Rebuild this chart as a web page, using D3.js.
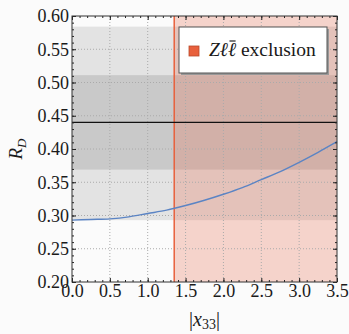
<!DOCTYPE html>
<html>
<head>
<meta charset="utf-8">
<script src="https://cdn.jsdelivr.net/npm/d3@7"></script>
<style>
  html, body { margin: 0; padding: 0; background: #fbfbfb; }
  svg { display: block; }
</style>
</head>
<body>
<svg id="chart" width="349" height="334"></svg>
<script>
// curve R_D versus |x33|
var xVals = [0, 0.25, 0.5, 0.75, 1, 1.25, 1.5, 1.75, 2, 2.25, 2.5, 2.75, 3, 3.25, 3.5];
var rdVals = [0.293, 0.294, 0.295, 0.298, 0.303, 0.308, 0.315, 0.323, 0.332, 0.342, 0.354, 0.366, 0.380, 0.395, 0.411];

// measured value and its bands
var rdCentral = 0.44;
var band1 = [0.369, 0.511];
var band2 = [0.293, 0.584];

// excluded region
var exclusionFrom = 1.35;
var legendLabel = "exclusion";

var xTicks = [0, 0.5, 1, 1.5, 2, 2.5, 3, 3.5];
var yTicks = [0.20, 0.25, 0.30, 0.35, 0.40, 0.45, 0.50, 0.55, 0.60];

var serif = "'Liberation Serif', 'Times New Roman', serif";

var svg = d3.select("#chart");
var margin = {top: 16, right: 12, bottom: 52, left: 72};
var width = 349 - margin.left - margin.right,
    height = 334 - margin.top - margin.bottom;

var x = d3.scaleLinear().domain([0, 3.5]).range([0, width]);
var y = d3.scaleLinear().domain([0.2, 0.6]).range([height, 0]);

var g = svg.append("g")
    .attr("transform", "translate(" + margin.left + "," + margin.top + ")");

// plot background
g.append("rect")
    .attr("width", width)
    .attr("height", height)
    .attr("fill", "#fbfbfb");

// 2 sigma band
g.append("rect")
    .attr("x", 0)
    .attr("width", width)
    .attr("y", y(band2[1]))
    .attr("height", y(band2[0]) - y(band2[1]))
    .attr("fill", "#e3e3e3");

// 1 sigma band
g.append("rect")
    .attr("x", 0)
    .attr("width", width)
    .attr("y", y(band1[1]))
    .attr("height", y(band1[0]) - y(band1[1]))
    .attr("fill", "#c9c9c9");

// exclusion region
g.append("rect")
    .attr("x", x(exclusionFrom))
    .attr("width", x(3.5) - x(exclusionFrom))
    .attr("y", 0)
    .attr("height", height)
    .attr("fill", "#e8785e")
    .attr("fill-opacity", 0.3);

// dotted grid
g.selectAll(".vgrid")
    .data(xTicks.slice(1, -1))
    .enter().append("line")
    .attr("x1", d => x(d)).attr("x2", d => x(d))
    .attr("y1", 0).attr("y2", height)
    .attr("stroke", "#aaa")
    .attr("stroke-width", 1)
    .attr("stroke-dasharray", "1,2");

g.selectAll(".hgrid")
    .data(yTicks.slice(1, -1))
    .enter().append("line")
    .attr("y1", d => y(d)).attr("y2", d => y(d))
    .attr("x1", 0).attr("x2", width)
    .attr("stroke", "#aaa")
    .attr("stroke-width", 1)
    .attr("stroke-dasharray", "1,2");

// edge of exclusion
g.append("line")
    .attr("x1", x(exclusionFrom)).attr("x2", x(exclusionFrom))
    .attr("y1", 0).attr("y2", height)
    .attr("stroke", "#e8603c")
    .attr("stroke-width", 1.5);

// central value
g.append("line")
    .attr("x1", 0).attr("x2", width)
    .attr("y1", y(rdCentral)).attr("y2", y(rdCentral))
    .attr("stroke", "#111")
    .attr("stroke-width", 1.4);

// R_D curve
var line = d3.line()
    .x(function(d, i) { return x(xVals[i]); })
    .y(function(d) { return y(d); })
    .curve(d3.curveMonotoneX);

g.append("path")
    .datum(rdVals)
    .attr("d", line)
    .attr("fill", "none")
    .attr("stroke", "#5b84c4")
    .attr("stroke-width", 1.4);

// frame ticks
var xMinor = d3.range(0, 35.5, 1).map(d => d / 10);
var yMinor = d3.range(20, 60.5, 1).map(d => d / 100);

function addAxis(axis, tx) {
    var a = g.append("g").attr("transform", tx).call(axis);
    a.select(".domain").remove();
    a.selectAll(".tick line").attr("stroke", "#222");
    a.attr("font-family", serif).attr("font-size", 18);
    a.selectAll(".tick text").attr("fill", "#1a1a1a");
    return a;
}

addAxis(d3.axisLeft(y).tickValues(yMinor).tickSize(-2).tickFormat(""), "translate(0,0)");
addAxis(d3.axisRight(y).tickValues(yMinor).tickSize(-2).tickFormat(""), "translate(" + width + ",0)");
addAxis(d3.axisBottom(x).tickValues(xMinor).tickSize(-2).tickFormat(""), "translate(0," + height + ")");
addAxis(d3.axisTop(x).tickValues(xMinor).tickSize(-2).tickFormat(""), "translate(0,0)");

addAxis(d3.axisLeft(y).tickValues(yTicks).tickSize(-4).tickPadding(3).tickFormat(d3.format(".2f")), "translate(0,0)");
addAxis(d3.axisRight(y).tickValues(yTicks).tickSize(-4).tickFormat(""), "translate(" + width + ",0)");
addAxis(d3.axisBottom(x).tickValues(xTicks).tickSize(-4).tickPadding(2.5).tickFormat(d3.format(".1f")), "translate(0," + height + ")");
addAxis(d3.axisTop(x).tickValues(xTicks).tickSize(-4).tickFormat(""), "translate(0,0)");

// frame
g.append("rect")
    .attr("width", width)
    .attr("height", height)
    .attr("fill", "none")
    .attr("stroke", "#333")
    .attr("stroke-width", 1);

// axis labels
svg.append("text")
    .attr("transform", "translate(22," + (margin.top + height / 2) + ") rotate(-90)")
    .attr("text-anchor", "middle")
    .attr("font-family", serif)
    .attr("font-size", 19)
    .attr("font-style", "italic")
    .attr("fill", "#1a1a1a")
    .html('R<tspan dy="4" font-size="13">D</tspan>');

var xl = svg.append("text")
    .attr("x", margin.left + width / 2)
    .attr("y", 326)
    .attr("text-anchor", "middle")
    .attr("font-family", serif)
    .attr("font-size", 20)
    .attr("fill", "#1a1a1a");
xl.append("tspan").text("|");
xl.append("tspan").attr("font-style", "italic").text("x");
xl.append("tspan").attr("dy", 3).attr("font-size", 14).text("33");
xl.append("tspan").attr("dy", -3).text("|");

// legend
var lg = svg.append("g").attr("transform", "translate(179,27)");
lg.append("rect")
    .attr("x", 2).attr("y", 2)
    .attr("width", 148).attr("height", 46)
    .attr("fill", "#999");
lg.append("rect")
    .attr("width", 148).attr("height", 46)
    .attr("fill", "#fff")
    .attr("stroke", "#555")
    .attr("stroke-width", 1);
lg.append("rect")
    .attr("x", 10).attr("y", 19)
    .attr("width", 10).attr("height", 10)
    .attr("fill", "#e8603c")
    .attr("stroke", "#b84a2c")
    .attr("stroke-width", 0.8);

var lt = lg.append("text")
    .attr("x", 30)
    .attr("y", 29)
    .attr("font-family", serif)
    .attr("font-size", 19.5)
    .attr("fill", "#1a1a1a");
lt.append("tspan").attr("font-style", "italic").text("Zℓℓ");
lt.append("tspan").text(" " + legendLabel);

// bar over the second lepton symbol
var ext = lt.node().getExtentOfChar(2);
lg.append("line")
    .attr("x1", ext.x + 1.5).attr("x2", ext.x + ext.width - 0.5)
    .attr("y1", ext.y + 2).attr("y2", ext.y + 2)
    .attr("stroke", "#222")
    .attr("stroke-width", 1.2);
</script>
</body>
</html>
